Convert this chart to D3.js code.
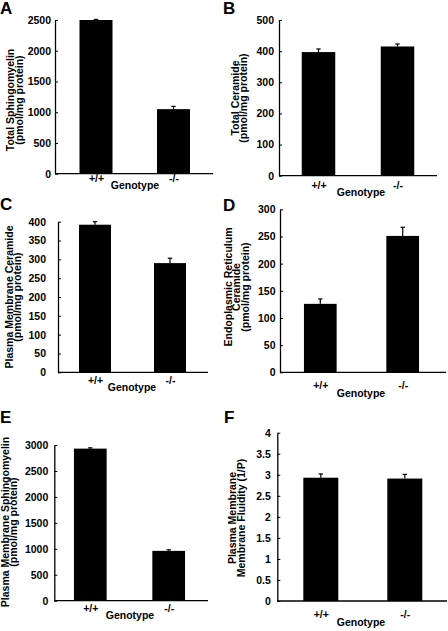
<!DOCTYPE html>
<html>
<head>
<meta charset="utf-8">
<script src="https://cdn.jsdelivr.net/npm/d3@7"></script>
<style>
  html, body { margin: 0; padding: 0; background: #fff; }
  svg { display: block; font-family: "Liberation Sans", Arial, Helvetica, sans-serif; font-weight: bold; }
</style>
</head>
<body>
<svg id="chart" width="448" height="631"></svg>
<script>
// ---- Data ----
const genotypes = ["+/+", "-/-"];
const panelLetters = ["A", "B", "C", "D", "E", "F"];

const totalSphingomyelin = [2500, 1050];
const totalSphingomyelinErr = [10, 45];
const totalCeramide = [397, 415];
const totalCeramideErr = [10, 8];
const pmCeramide = [392, 290];
const pmCeramideErr = [8, 13];
const erCeramide = [126, 251];
const erCeramideErr = [9, 16];
const pmSphingomyelin = [2930, 960];
const pmSphingomyelinErr = [15, 20];
const pmFluidity = [2.93, 2.91];
const pmFluidityErr = [0.09, 0.1];

const ticksA = [0, 500, 1000, 1500, 2000, 2500];
const ticksB = [0, 100, 200, 300, 400, 500];
const ticksC = [0, 50, 100, 150, 200, 250, 300, 350, 400];
const ticksD = [0, 50, 100, 150, 200, 250, 300];
const ticksE = [0, 500, 1000, 1500, 2000, 2500, 3000];
const ticksF = [0, 0.5, 1, 1.5, 2, 2.5, 3, 3.5, 4];

const labelA = ["Total Sphingomyelin", "(pmol/mg protein)"];
const labelB = ["Total Ceramide", "(pmol/mg protein)"];
const labelC = ["Plasma Membrane Ceramide", "(pmol/mg protein)"];
const labelD = ["Endoplasmic Reticulum", "Ceramide", "(pmol/mg protein)"];
const labelE = ["Plasma Membrane Sphingomyelin", "(pmol/mg protein)"];
const labelF = ["Plasma Membrane", "Membrane Fluidity (1/P)"];
const xTitle = "Genotype";

const panels = [
  { values: totalSphingomyelin, errs: totalSphingomyelinErr, ticks: ticksA, label: labelA },
  { values: totalCeramide, errs: totalCeramideErr, ticks: ticksB, label: labelB },
  { values: pmCeramide, errs: pmCeramideErr, ticks: ticksC, label: labelC },
  { values: erCeramide, errs: erCeramideErr, ticks: ticksD, label: labelD },
  { values: pmSphingomyelin, errs: pmSphingomyelinErr, ticks: ticksE, label: labelE },
  { values: pmFluidity, errs: pmFluidityErr, ticks: ticksF, label: labelF }
];

// ---- Layout (pixel geometry) ----
const layout = [
  { ax: 55,    x1: 213, yTop: 20,    yBot: 173.7, c1: 96,    c2: 173.5, bw: 33,   pad: 4,  tickBase: 182,   genoBase: 189,   genoX: 135, letX: 0,   letBase: 13.5, labX: 14,  labY: 100 },
  { ax: 279,   x1: 437, yTop: 20,    yBot: 175.7, c1: 318.5, c2: 397.5, bw: 33.5, pad: 5,  tickBase: 189,   genoBase: 196,   genoX: 361, letX: 223, letBase: 13.5, labX: 238.5, labY: 98 },
  { ax: 58,    x1: 208, yTop: 221.7, yBot: 372.3, c1: 95,    c2: 170,   bw: 32,   pad: 12, tickBase: 384.5, genoBase: 391,   genoX: 132, letX: 0,   letBase: 210,  labX: 12.5, labY: 297 },
  { ax: 280,   x1: 446, yTop: 209.3, yBot: 372.3, c1: 320.3, c2: 402.7, bw: 32.7, pad: 4.5, tickBase: 389,  genoBase: 397,   genoX: 361, letX: 223, letBase: 211,  labX: 231.5, labY: 287 },
  { ax: 54.3,  x1: 208, yTop: 445,   yBot: 600.7, c1: 90.3,  c2: 168.7, bw: 32.7, pad: 6,  tickBase: 612,   genoBase: 619,   genoX: 130, letX: 0,   letBase: 423,  labX: 8.5, labY: 522 },
  { ax: 277.3, x1: 447, yTop: 432.7, yBot: 601,   c1: 320.8, c2: 404.8, bw: 35,   pad: 6.5, tickBase: 617.5, genoBase: 626, genoX: 361, letX: 224, letBase: 423,  labX: 236, labY: 518 }
];

const tickFont = 10.5, labelFont = 10.5, genoFont = 10.5, letterFont = 17, lineGap = 8.6;

const svg = d3.select("#chart");

panels.forEach((p, i) => {
  const L = layout[i];
  const g = svg.append("g");
  const yMax = p.ticks[p.ticks.length - 1];
  const y = d3.scaleLinear().domain([0, yMax]).range([L.yBot, L.yTop]);
  const x = d3.scalePoint().domain(genotypes).range([L.c1, L.c2]);

  // bars
  g.selectAll("rect.bar").data(genotypes).join("rect")
    .attr("class", "bar")
    .attr("x", d => x(d) - L.bw / 2)
    .attr("width", L.bw)
    .attr("y", (d, j) => y(p.values[j]))
    .attr("height", (d, j) => y(0) - y(p.values[j]))
    .attr("fill", "#000");

  // error bars (upper only)
  g.selectAll("line.err").data(genotypes).join("line")
    .attr("class", "err")
    .attr("x1", d => x(d)).attr("x2", d => x(d))
    .attr("y1", (d, j) => y(p.values[j]))
    .attr("y2", (d, j) => y(p.values[j] + p.errs[j]))
    .attr("stroke", "#000").attr("stroke-width", 1.2);
  g.selectAll("line.cap").data(genotypes).join("line")
    .attr("class", "cap")
    .attr("x1", d => x(d) - 2.2).attr("x2", d => x(d) + 2.2)
    .attr("y1", (d, j) => y(p.values[j] + p.errs[j]))
    .attr("y2", (d, j) => y(p.values[j] + p.errs[j]))
    .attr("stroke", "#000").attr("stroke-width", 1.2);

  // y axis
  const yAxis = d3.axisLeft(y).tickValues(p.ticks).tickFormat(d => String(d))
    .tickSizeInner(-3).tickSizeOuter(0).tickPadding(L.pad);
  const ya = g.append("g").attr("transform", `translate(${L.ax},0)`).call(yAxis);
  ya.selectAll("path.domain").attr("stroke-width", 1.3);
  ya.selectAll(".tick line").attr("stroke-width", 1);
  ya.selectAll("text").attr("font-size", tickFont).attr("fill", "#000");
  ya.attr("font-family", null).attr("font-size", null);

  // x axis line
  g.append("line")
    .attr("x1", L.ax).attr("x2", L.x1)
    .attr("y1", L.yBot).attr("y2", L.yBot)
    .attr("stroke", "#000").attr("stroke-width", 1.3);

  // x tick labels
  const xAxis = d3.axisBottom(x).tickSize(0).tickPadding(L.tickBase - L.yBot - 0.71 * tickFont);
  const xa = g.append("g").attr("transform", `translate(0,${L.yBot})`).call(xAxis);
  xa.select("path.domain").remove();
  xa.selectAll("text").attr("font-size", tickFont).attr("fill", "#000");
  xa.attr("font-family", null).attr("font-size", null);

  // x title
  g.append("text").attr("x", L.genoX).attr("y", L.genoBase)
    .attr("text-anchor", "middle").attr("font-size", genoFont).text(xTitle);

  // y title (rotated, multi-line)
  const yt = g.append("text")
    .attr("transform", `translate(${L.labX},${L.labY}) rotate(-90)`)
    .attr("text-anchor", "middle").attr("font-size", labelFont);
  p.label.forEach((t, k) => {
    yt.append("tspan").attr("x", 0).attr("y", k * lineGap).text(t);
  });

  // panel letter
  g.append("text").attr("x", L.letX).attr("y", L.letBase)
    .attr("font-size", letterFont).text(panelLetters[i]);
});
</script>
</body>
</html>
